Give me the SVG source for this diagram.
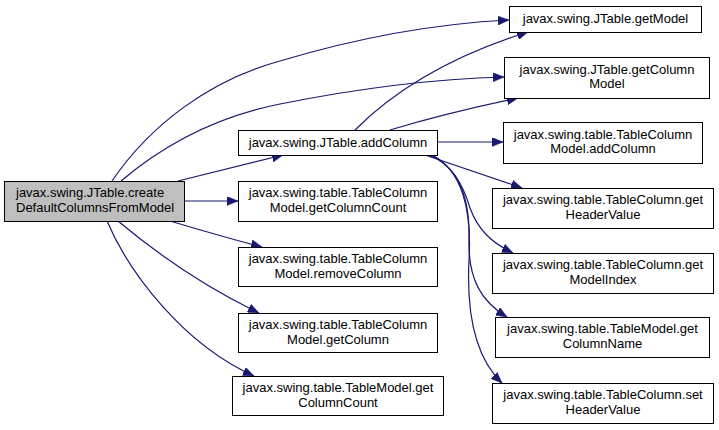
<svg xmlns="http://www.w3.org/2000/svg" width="719" height="430" viewBox="0 0 719 430">
<defs>
<style>
.n rect{fill:#ffffff;stroke:#000000;stroke-width:1}
.n.root rect{fill:#bfbfbf}
.n text{font-family:"Liberation Sans",Arial,sans-serif;font-size:13px;fill:#000000;text-anchor:middle}
.n.root text{text-anchor:start}
.e path{fill:none;stroke:#191970;stroke-width:1.2}
</style>
<marker id="ah" markerWidth="12" markerHeight="9" refX="11" refY="4.5" orient="auto" markerUnits="userSpaceOnUse">
<path d="M0,0 L11,4.5 L0,9 z" fill="#191970" stroke="#191970" stroke-width="0.5"/>
</marker>
</defs>
<rect width="719" height="430" fill="#ffffff"/>
<g class="e" id="edges">
<path marker-end="url(#ah)" d="M112,181 C150,125 210,80 280,61 C350,40 430,24 509,20"/>
<path marker-end="url(#ah)" d="M121,181 C160,148 210,118 280,104 C350,90 430,79 504,77"/>
<path marker-end="url(#ah)" d="M178,181 L283,155"/>
<path marker-end="url(#ah)" d="M184,201 L238,201"/>
<path marker-end="url(#ah)" d="M170,221 C200,230 235,240 262,247"/>
<path marker-end="url(#ah)" d="M118,221 C155,252 205,287 259,313"/>
<path marker-end="url(#ah)" d="M107,221 C130,275 185,345 254,376"/>
<path marker-end="url(#ah)" d="M355,130 C390,95 445,58 528,32"/>
<path marker-end="url(#ah)" d="M390,130 C430,118 480,106 518,98"/>
<path marker-end="url(#ah)" d="M437,142 L503,142"/>
<path marker-end="url(#ah)" d="M425,155 L522,188"/>
<path marker-end="url(#ah)" d="M428,155 C452,163 463,185 470,208 C478,230 492,243 513,253"/>
<path marker-end="url(#ah)" d="M430,155 C460,168 470,200 469,240 C468,280 482,302 507,317"/>
<path marker-end="url(#ah)" d="M432,155 C462,170 472,210 469,260 C466,320 478,360 502,383"/>
</g>
<g class="n root" id="root">
<rect x="4.5" y="181.5" width="180" height="40"/>
<text x="16" y="197">javax.swing.JTable.create</text>
<text x="16" y="212">DefaultColumnsFromModel</text>
</g>
<g class="n" id="addColumn">
<rect x="238.5" y="130.5" width="199" height="25"/>
<text x="338" y="146.5">javax.swing.JTable.addColumn</text>
</g>
<g class="n" id="tcmGetColumnCount">
<rect x="238.5" y="181.5" width="199" height="40"/>
<text x="338" y="197">javax.swing.table.TableColumn</text>
<text x="338" y="211.5">Model.getColumnCount</text>
</g>
<g class="n" id="removeColumn">
<rect x="238.5" y="247.5" width="199" height="39"/>
<text x="338" y="263">javax.swing.table.TableColumn</text>
<text x="338" y="277.5">Model.removeColumn</text>
</g>
<g class="n" id="getColumn">
<rect x="238.5" y="313.5" width="199" height="39"/>
<text x="338" y="329">javax.swing.table.TableColumn</text>
<text x="338" y="343.5">Model.getColumn</text>
</g>
<g class="n" id="tmGetColumnCount">
<rect x="232.5" y="376.5" width="211" height="39"/>
<text x="338" y="392">javax.swing.table.TableModel.get</text>
<text x="338" y="406.5">ColumnCount</text>
</g>
<g class="n" id="getModel">
<rect x="509.5" y="6.5" width="192" height="26"/>
<text x="605.5" y="23">javax.swing.JTable.getModel</text>
</g>
<g class="n" id="getColumnModel">
<rect x="504.5" y="57.5" width="205" height="41"/>
<text x="607" y="73.5">javax.swing.JTable.getColumn</text>
<text x="607" y="88">Model</text>
</g>
<g class="n" id="tcmAddColumn">
<rect x="503.5" y="122.5" width="199" height="41"/>
<text x="603" y="138.5">javax.swing.table.TableColumn</text>
<text x="603" y="153">Model.addColumn</text>
</g>
<g class="n" id="getHeaderValue">
<rect x="492.5" y="188.5" width="221" height="40"/>
<text x="603" y="204">javax.swing.table.TableColumn.get</text>
<text x="603" y="218.5">HeaderValue</text>
</g>
<g class="n" id="getModelIndex">
<rect x="492.5" y="253.5" width="221" height="40"/>
<text x="603" y="269">javax.swing.table.TableColumn.get</text>
<text x="603" y="283.5">ModelIndex</text>
</g>
<g class="n" id="getColumnName">
<rect x="495.5" y="317.5" width="214" height="40"/>
<text x="602.5" y="333">javax.swing.table.TableModel.get</text>
<text x="602.5" y="347.5">ColumnName</text>
</g>
<g class="n" id="setHeaderValue">
<rect x="492.5" y="383.5" width="221" height="40"/>
<text x="603" y="399">javax.swing.table.TableColumn.set</text>
<text x="603" y="413.5">HeaderValue</text>
</g>
</svg>
